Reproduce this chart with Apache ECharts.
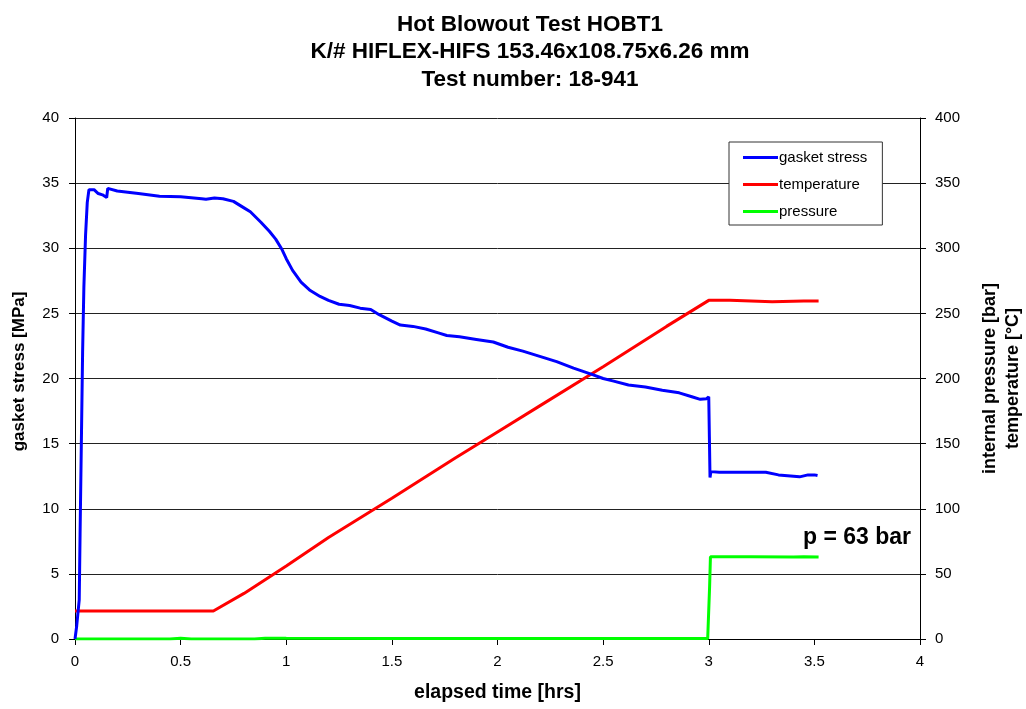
<!DOCTYPE html>
<html>
<head>
<meta charset="utf-8">
<script src="https://cdn.jsdelivr.net/npm/echarts@6/dist/echarts.min.js"></script>
<style>html,body{margin:0;padding:0;background:#fff}#c{width:1026px;height:709px}</style>
</head>
<body>
<div id="c"></div>
<script>
const titleLines = ['Hot Blowout Test HOBT1', 'K/# HIFLEX-HIFS 153.46x108.75x6.26 mm', 'Test number: 18-941'];
const xAxisName = 'elapsed time [hrs]';
const leftAxisName = 'gasket stress [MPa]';
const rightAxisName = 'internal pressure [bar]\ntemperature [°C]';
const seriesNames = ['gasket stress', 'temperature', 'pressure'];
const annotationText = 'p = 63 bar';

// [time hrs, gasket stress MPa]
const gasketStress = [
  [0,0],[0.004,0.5],[0.008,1.0],[0.016,1.0],[0.02,3],[0.024,8],[0.03,15],[0.036,22],[0.042,27],
  [0.05,31],[0.058,33.5],[0.066,34.5],[0.075,34.6],[0.09,34.5],[0.11,34.2],[0.13,34.1],[0.15,33.9],
  [0.155,34.6],[0.2,34.4],[0.3,34.2],[0.4,34.0],[0.5,33.95],[0.6,33.8],[0.62,33.76],[0.66,33.85],
  [0.7,33.8],[0.75,33.6],[0.8,33.1],[0.83,32.8],[0.88,32.0],[0.92,31.3],[0.95,30.7],[0.98,29.9],
  [1.0,29.2],[1.03,28.3],[1.07,27.4],[1.11,26.8],[1.16,26.3],[1.2,26.0],[1.25,25.7],[1.3,25.6],
  [1.35,25.4],[1.4,25.3],[1.44,24.9],[1.5,24.4],[1.54,24.1],[1.6,24.0],[1.66,23.8],[1.72,23.5],
  [1.76,23.3],[1.82,23.2],[1.9,23.0],[1.98,22.8],[2.05,22.4],[2.12,22.1],[2.2,21.7],[2.28,21.3],
  [2.36,20.8],[2.45,20.3],[2.5,20.0],[2.55,19.8],[2.62,19.5],[2.7,19.35],[2.78,19.1],[2.86,18.9],
  [2.92,18.6],[2.96,18.4],[2.99,18.45],[3.0,18.6],[3.003,15.5],[3.006,12.4],[3.01,12.85],
  [3.05,12.8],[3.15,12.8],[3.27,12.8],[3.33,12.6],[3.43,12.45],[3.47,12.6],[3.5,12.6],[3.515,12.55]
];

// [time hrs, temperature °C]
const temperature = [
  [0,21.5],[0.3,21.5],[0.655,21.5],[0.8,35],[1.0,56],[1.2,78],[1.5,108],[1.8,139],[2.0,159],
  [2.2,179],[2.5,209],[2.8,240],[3.0,260],[3.1,260],[3.3,259],[3.45,259.5],[3.52,259.5]
];

// [time hrs, pressure bar]
const pressure = [
  [0,0],[0.45,0],[0.5,0.5],[0.55,0],[0.85,0],[0.9,0.6],[1.0,0.5],[1.5,0.4],[2.0,0.3],[2.5,0.3],
  [2.995,0.3],[3.0,0.3],[3.004,40],[3.008,63.2],[3.2,63.2],[3.4,63],[3.45,63.2],[3.52,63]
];

const font = '"Liberation Sans", Arial, sans-serif';
const chart = echarts.init(document.getElementById('c'), null, {renderer: 'canvas'});
chart.setOption({
  animation: false,
  backgroundColor: '#fff',
  textStyle: {fontFamily: font},
  title: {
    text: titleLines.join('\n'),
    left: 525,
    textAlign: 'center',
    top: 6,
    textStyle: {fontFamily: font, fontSize: 22.5, fontWeight: 'bold', color: '#000', lineHeight: 27.5}
  },
  grid: {left: 75, right: 106, top: 118, bottom: 70, show: false, outerBoundsMode: 'none', containLabel: false},
  legend: {
    orient: 'vertical',
    left: 729, top: 142,
    padding: [8, 15, 6, 14],
    borderColor: '#333', borderWidth: 1,
    backgroundColor: '#fff',
    itemWidth: 35, itemHeight: 3, itemGap: 12,
    icon: 'rect',
    textStyle: {fontFamily: font, fontSize: 15, color: '#000', padding: [0, 0, 0, -4]},
    data: seriesNames
  },
  xAxis: {
    type: 'value', min: 0, max: 4, interval: 0.5,
    name: xAxisName, nameLocation: 'middle', nameGap: 44,
    nameTextStyle: {fontFamily: font, fontSize: 19.5, fontWeight: 'bold', color: '#000'},
    axisLine: {onZero: false, lineStyle: {color: '#000', width: 1}},
    axisTick: {show: true, inside: false, length: 6, lineStyle: {color: '#000'}},
    axisLabel: {fontFamily: font, fontSize: 15, color: '#000', margin: 15},
    splitLine: {show: false}
  },
  yAxis: [
    {
      type: 'value', min: 0, max: 40, interval: 5,
      name: leftAxisName, nameLocation: 'middle', nameGap: 47, nameRotate: 90,
      nameTextStyle: {fontFamily: font, fontSize: 17, fontWeight: 'bold', color: '#000', padding: [0, 0, 0, 14]},
      axisLine: {show: true, lineStyle: {color: '#000', width: 1}},
      axisTick: {show: true, length: 6, lineStyle: {color: '#000'}},
      axisLabel: {fontFamily: font, fontSize: 15, color: '#000', margin: 16},
      splitLine: {show: true, lineStyle: {color: '#222', width: 1}}
    },
    {
      type: 'value', min: 0, max: 400, interval: 50, position: 'right',
      name: rightAxisName, nameLocation: 'middle', nameGap: 59, nameRotate: 90,
      nameTextStyle: {fontFamily: font, fontSize: 18, fontWeight: 'bold', color: '#000', lineHeight: 23},
      axisLine: {show: true, lineStyle: {color: '#000', width: 1}},
      axisTick: {show: true, length: 6, lineStyle: {color: '#000'}},
      axisLabel: {fontFamily: font, fontSize: 15, color: '#000', margin: 15},
      splitLine: {show: false}
    }
  ],
  series: [
    {name: seriesNames[0], type: 'line', yAxisIndex: 0, data: gasketStress, showSymbol: false, symbol: 'none',
     lineStyle: {color: '#0000ff', width: 3}, itemStyle: {color: '#0000ff'}, z: 4},
    {name: seriesNames[1], type: 'line', yAxisIndex: 1, data: temperature, showSymbol: false, symbol: 'none',
     lineStyle: {color: '#ff0000', width: 3}, itemStyle: {color: '#ff0000'}, z: 3},
    {name: seriesNames[2], type: 'line', yAxisIndex: 1, data: pressure, showSymbol: false, symbol: 'none',
     lineStyle: {color: '#00ff00', width: 3}, itemStyle: {color: '#00ff00'}, z: 2}
  ],
  graphic: [
    {type: 'text', left: 803, top: 526,
     style: {text: annotationText, fontFamily: font, fontSize: 23, fontWeight: 'bold', fill: '#000'}}
  ]
});
</script>
</body>
</html>
